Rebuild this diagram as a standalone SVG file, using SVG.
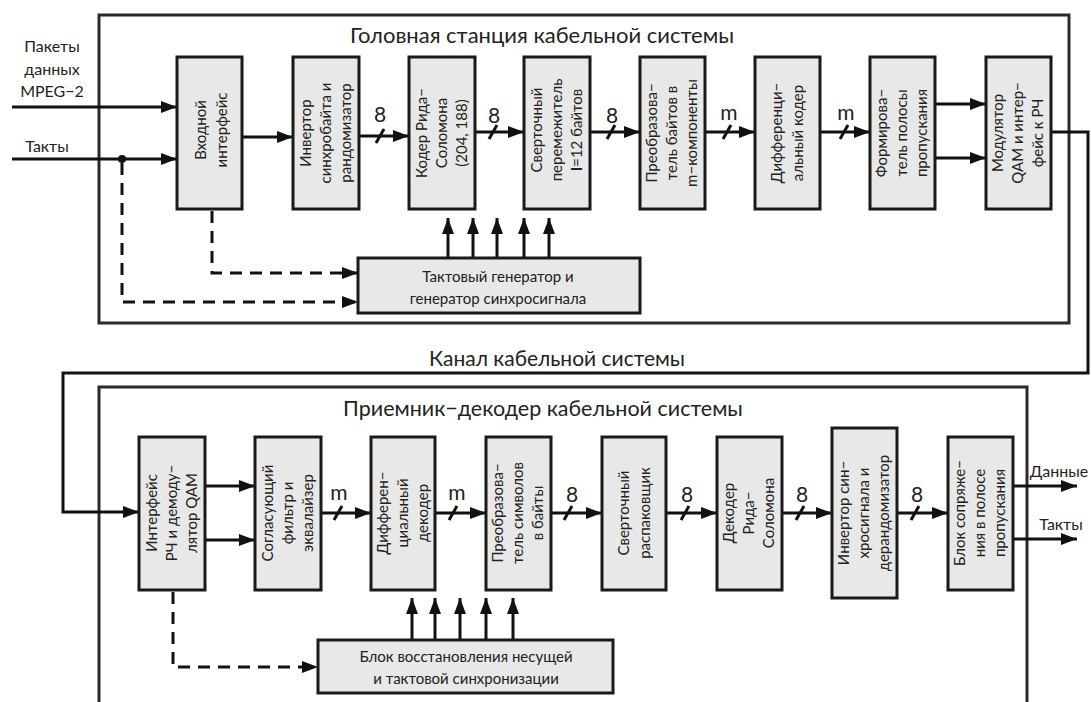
<svg xmlns="http://www.w3.org/2000/svg" width="1091" height="702" viewBox="0 0 1091 702">
<defs>
<marker id="ah" viewBox="0 0 16 12" refX="16" refY="6" markerWidth="16" markerHeight="12" markerUnits="userSpaceOnUse" orient="auto">
<path d="M0,0 L16,6 L0,12 z" fill="#111"/>
</marker>
<style>
text{font-family:"Lato","Open Sans","Liberation Sans",sans-serif;fill:#222}
.frame{fill:none;stroke:#2a2a2a;stroke-width:3}
.blk{fill:#e8e8e8;stroke:#1a1a1a;stroke-width:3}
.bt{font-size:15px;text-anchor:middle}
.ttl{font-size:21px;text-anchor:middle}
.lbl{font-size:16px;text-anchor:middle}
.num{font-size:21px;text-anchor:middle}
.ln{fill:none;stroke:#111;stroke-width:3}
.arr{fill:none;stroke:#111;stroke-width:3;marker-end:url(#ah)}
.dash{fill:none;stroke:#111;stroke-width:3;stroke-dasharray:12 8;marker-end:url(#ah)}
.sl{stroke:#111;stroke-width:3}
</style>
</defs>
<rect width="1091" height="702" fill="#fff"/>

<g id="headend-frame">
<rect class="frame" x="99" y="15" width="970" height="308"/>
<text class="ttl" x="542" y="43" style="font-size:22px">Головная станция кабельной системы</text>
</g>
<g id="receiver-frame">
<rect class="frame" x="99" y="387" width="928" height="340"/>
<text class="ttl" x="543" y="416" style="font-size:21.5px">Приемник−декодер кабельной системы</text>
</g>
<text class="ttl" x="557" y="366">Канал кабельной системы</text>

<g id="inputs">
<text class="lbl" x="52" y="52">Пакеты</text>
<text class="lbl" x="52" y="75">данных</text>
<text class="lbl" x="52" y="97">MPEG−2</text>
<text class="lbl" x="47" y="152">Такты</text>
</g>
<g id="outputs">
<text class="lbl" x="1059" y="477">Данные</text>
<text class="lbl" x="1061" y="530">Такты</text>
</g>

<g id="connectors">
<path class="arr" d="M12,107 H177"/>
<path class="arr" d="M12,159 H177"/>
<circle cx="122" cy="159" r="4" fill="#111"/>
<path class="arr" d="M242,137 H293"/>
<path class="arr" d="M359,136 H409"/>
<path class="arr" d="M475,132 H524"/>
<path class="arr" d="M590,132 H640"/>
<path class="arr" d="M705,132 H755"/>
<path class="arr" d="M820,132 H870"/>
<path class="arr" d="M935,104 H986"/>
<path class="arr" d="M935,158 H986"/>
<path class="arr" d="M1051,132 H1088 V373 H63 V512 H139"/>
<path class="dash" d="M212,211 V273 H358"/>
<path class="dash" d="M122,163 V302 H358"/>
<path class="arr" d="M448,258 V218"/>
<path class="arr" d="M473,258 V218"/>
<path class="arr" d="M497,258 V218"/>
<path class="arr" d="M524,258 V218"/>
<path class="arr" d="M549,258 V218"/>
<path class="sl" d="M376,143 L384,129"/><text class="num" x="380" y="122">8</text>
<path class="sl" d="M489,139 L497,125"/><text class="num" x="494" y="123">8</text>
<path class="sl" d="M607,139 L615,125"/><text class="num" x="612" y="123">8</text>
<path class="sl" d="M723,139 L731,125"/><text class="num" x="729" y="120">m</text>
<path class="sl" d="M840,139 L848,125"/><text class="num" x="846" y="120">m</text>

<path class="arr" d="M205,486 H255"/>
<path class="arr" d="M205,540 H255"/>
<path class="arr" d="M321,513 H371"/>
<path class="arr" d="M435,513 H486"/>
<path class="arr" d="M551,513 H602"/>
<path class="arr" d="M666,513 H717"/>
<path class="arr" d="M782,513 H832"/>
<path class="arr" d="M897,513 H948"/>
<path class="arr" d="M1013,486 H1077"/>
<path class="arr" d="M1013,539 H1077"/>
<path class="dash" d="M173,592 V667 H318"/>
<path class="arr" d="M412,640 V598"/>
<path class="arr" d="M435,640 V598"/>
<path class="arr" d="M460,640 V598"/>
<path class="arr" d="M486,640 V598"/>
<path class="arr" d="M513,640 V598"/>
<path class="sl" d="M334,520 L342,506"/><text class="num" x="339" y="500">m</text>
<path class="sl" d="M449,520 L457,506"/><text class="num" x="457" y="500">m</text>
<path class="sl" d="M564,520 L572,506"/><text class="num" x="572" y="502">8</text>
<path class="sl" d="M681,520 L689,506"/><text class="num" x="687" y="502">8</text>
<path class="sl" d="M796,520 L804,506"/><text class="num" x="802" y="502">8</text>
<path class="sl" d="M911,520 L919,506"/><text class="num" x="917" y="502">8</text>
</g>

<g id="t1"><rect class="blk" x="177" y="57" width="65" height="152"/>
<text class="bt" transform="translate(211,130) rotate(-90)"><tspan x="0" y="-5">Входной</tspan><tspan x="0" y="16">интерфейс</tspan></text></g>
<g id="t2"><rect class="blk" x="293" y="57" width="66" height="152"/>
<text class="bt" transform="translate(326,133) rotate(-90)"><tspan x="0" y="-15">Инвертор</tspan><tspan x="0" y="5">синхробайта и</tspan><tspan x="0" y="25">рандомизатор</tspan></text></g>
<g id="t3"><rect class="blk" x="409" y="57" width="66" height="152"/>
<text class="bt" transform="translate(442,133) rotate(-90)"><tspan x="0" y="-15">Кодер Рида−</tspan><tspan x="0" y="5">Соломона</tspan><tspan x="0" y="25">(204, 188)</tspan></text></g>
<g id="t4"><rect class="blk" x="524" y="57" width="66" height="152"/>
<text class="bt" transform="translate(557,130) rotate(-90)"><tspan x="0" y="-15">Сверточный</tspan><tspan x="0" y="5">перемежитель</tspan><tspan x="0" y="25"><tspan font-weight="bold">I</tspan>=12 байтов</tspan></text></g>
<g id="t5"><rect class="blk" x="640" y="57" width="65" height="152"/>
<text class="bt" transform="translate(672,133) rotate(-90)"><tspan x="0" y="-15">Преобразова−</tspan><tspan x="0" y="5">тель байтов в</tspan><tspan x="0" y="25">m−компоненты</tspan></text></g>
<g id="t6"><rect class="blk" x="755" y="57" width="65" height="152"/>
<text class="bt" transform="translate(787,133) rotate(-90)"><tspan x="0" y="-5">Дифференци−</tspan><tspan x="0" y="16">альный кодер</tspan></text></g>
<g id="t7"><rect class="blk" x="870" y="57" width="65" height="152"/>
<text class="bt" transform="translate(902,133) rotate(-90)"><tspan x="0" y="-15">Формирова−</tspan><tspan x="0" y="5">тель полосы</tspan><tspan x="0" y="25">пропускания</tspan></text></g>
<g id="t8"><rect class="blk" x="986" y="57" width="65" height="152"/>
<text class="bt" transform="translate(1018,133) rotate(-90)"><tspan x="0" y="-15">Модулятор</tspan><tspan x="0" y="5">QAM и интер−</tspan><tspan x="0" y="25">фейс к РЧ</tspan></text></g>
<g id="clockgen"><rect class="blk" x="358" y="258" width="282" height="55"/>
<text class="bt" x="498" y="282">Тактовый генератор и</text>
<text class="bt" x="498" y="304">генератор синхросигнала</text></g>

<g id="b1"><rect class="blk" x="139" y="437" width="66" height="153"/>
<text class="bt" transform="translate(172,513) rotate(-90)"><tspan x="0" y="-15">Интерфейс</tspan><tspan x="0" y="5">РЧ и демоду−</tspan><tspan x="0" y="25">лятор QAM</tspan></text></g>
<g id="b2"><rect class="blk" x="255" y="437" width="66" height="153"/>
<text class="bt" transform="translate(288,513) rotate(-90)"><tspan x="0" y="-15">Согласующий</tspan><tspan x="0" y="5">фильтр и</tspan><tspan x="0" y="25">эквалайзер</tspan></text></g>
<g id="b3"><rect class="blk" x="371" y="437" width="64" height="153"/>
<text class="bt" transform="translate(403,513) rotate(-90)"><tspan x="0" y="-15">Дифферен−</tspan><tspan x="0" y="5">циальный</tspan><tspan x="0" y="25">декодер</tspan></text></g>
<g id="b4"><rect class="blk" x="486" y="437" width="65" height="153"/>
<text class="bt" transform="translate(518,513) rotate(-90)"><tspan x="0" y="-15">Преобразова−</tspan><tspan x="0" y="5">тель символов</tspan><tspan x="0" y="25">в байты</tspan></text></g>
<g id="b5"><rect class="blk" x="602" y="437" width="64" height="153"/>
<text class="bt" transform="translate(634,513) rotate(-90)"><tspan x="0" y="-5">Сверточный</tspan><tspan x="0" y="16">распаковщик</tspan></text></g>
<g id="b6"><rect class="blk" x="717" y="437" width="65" height="153"/>
<text class="bt" transform="translate(749,513) rotate(-90)"><tspan x="0" y="-15">Декодер</tspan><tspan x="0" y="5">Рида−</tspan><tspan x="0" y="25">Соломона</tspan></text></g>
<g id="b7"><rect class="blk" x="832" y="428" width="65" height="170"/>
<text class="bt" transform="translate(864,513) rotate(-90)"><tspan x="0" y="-15">Инвертор син−</tspan><tspan x="0" y="5">хросигнала и</tspan><tspan x="0" y="25">дерандомизатор</tspan></text></g>
<g id="b8"><rect class="blk" x="948" y="437" width="65" height="153"/>
<text class="bt" transform="translate(980,513) rotate(-90)"><tspan x="0" y="-15">Блок сопряже−</tspan><tspan x="0" y="5">ния в полосе</tspan><tspan x="0" y="25">пропускания</tspan></text></g>
<g id="recovery"><rect class="blk" x="318" y="640" width="295" height="53"/>
<text class="bt" x="466" y="662">Блок восстановления несущей</text>
<text class="bt" x="466" y="684">и тактовой синхронизации</text></g>
</svg>
